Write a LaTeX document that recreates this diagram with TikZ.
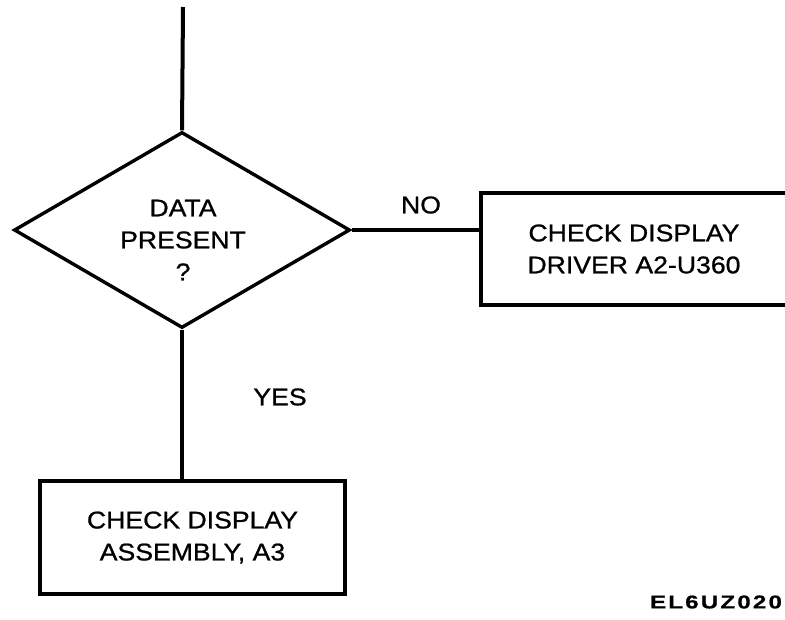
\documentclass[tikz,border=0pt]{standalone}
\usepackage{fontspec}
\setmainfont{Liberation Sans}[FakeStretch=1.1,FakeBold=0.9]
\newfontfamily\idfont{Liberation Sans Bold}[FakeStretch=1.3,LetterSpace=12,FakeBold=0.8]
\usetikzlibrary{shapes.geometric}
\begin{document}
\begin{tikzpicture}[x=1pt,y=-1pt,
  lbl/.style={font=\fontsize{24.2}{32}\selectfont, inner sep=0pt, align=center},
  boxnode/.style={draw, line width=3.2pt, rectangle, inner sep=0pt, align=center,
    font=\fontsize{24.2}{32}\selectfont},
  decision/.style={draw, line width=3.4pt, diamond, aspect=1.7, inner sep=0pt},
  link/.style={line width=3.4pt}]
\useasboundingbox (0,0) rectangle (785,619);
\coordinate (top) at (183,7);
\node[decision, minimum width=336pt, minimum height=196pt] (d) at (182,230) {};
\node[lbl] (dtext) at (183,240) {DATA\\PRESENT\\?};
\node[boxnode, minimum width=306pt, minimum height=112pt] (r) at (634,249) {CHECK DISPLAY\\DRIVER A2-U360};
\node[boxnode, minimum width=305pt, minimum height=113pt] (b) at (192.5,537.5) {CHECK DISPLAY\\ASSEMBLY, A3};
\draw[link, line width=4pt] (top) -- (d.north);
\draw[link] (d.east) -- (d.east -| r.west);
\draw[link] (d.south) -- (d.south |- b.north);
\node[lbl] (no) at (421,205) {NO};
\node[lbl] (yes) at (280,397) {YES};
\node[inner sep=0pt, font=\idfont\fontsize{18.5}{20}\selectfont] (id) at (716,602) {EL6UZ020};
\end{tikzpicture}
\end{document}
